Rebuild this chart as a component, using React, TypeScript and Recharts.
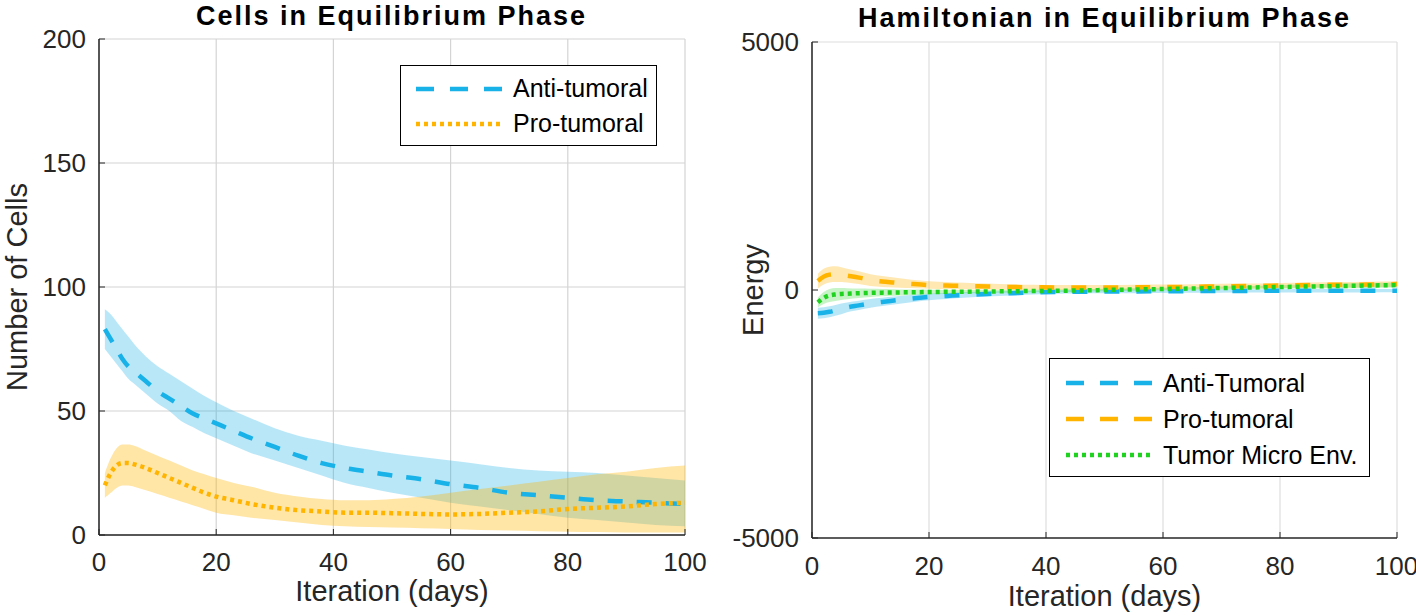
import {
  Area,
  CartesianGrid,
  ComposedChart,
  Label,
  Legend,
  Line,
  ReferenceLine,
  XAxis,
  YAxis,
} from "recharts";

const FONT = '"Liberation Sans", Arial, Helvetica, sans-serif';

// sampled iterations (days)
const days = [1, 2, 3, 4, 5, 6, 8, 10, 12, 14, 16, 18, 20, 23, 26, 30, 34, 38, 42, 46, 50, 55, 60, 65, 70, 75, 80, 85, 90, 95, 100];

// left panel: number of cells (mean and band)
const antiMean = [83, 79, 75, 71, 68, 66, 62, 58, 55, 52, 49, 47, 45, 42, 39, 35.5, 32, 29, 27, 25.5, 24, 22.5, 20.5, 19, 17, 16, 15, 14, 13.5, 13, 12.5];
const antiHigh = [91, 89, 86, 83, 80, 77, 72, 68, 65, 62, 59, 56, 53.5, 50, 47, 43, 40, 38, 36, 34.5, 33, 31.5, 30, 28.5, 27, 26, 25.5, 25, 24, 23, 22];
const antiLow = [75, 72, 69, 66, 63, 61, 57, 53, 50, 46, 43.5, 41, 39, 36, 33, 30, 27, 24, 21, 19, 17, 15, 13, 11.5, 10, 8.5, 7, 6, 5, 4, 3.5];
const proMean = [20, 25, 28, 29, 29, 28.5, 27, 25, 23, 21, 19, 17, 15.5, 14, 12.5, 11, 10, 9.5, 9, 9, 8.8, 8.5, 8.3, 8.5, 9, 9.5, 10.5, 11, 11.5, 12.5, 13];
const proHigh = [25, 31, 35, 36.5, 36.5, 36, 34, 32, 30, 28, 26, 24.5, 23, 21, 19.5, 17, 15.5, 14.5, 14, 14, 14.5, 15.5, 17, 18.5, 20, 21.5, 23, 24.5, 25.5, 27, 28];
const proLow = [15, 17, 19, 20, 20, 19.5, 18, 16.5, 15, 13.5, 12, 10.5, 9, 8, 7, 6, 5, 4, 3.5, 3.2, 3, 2.7, 2.4, 2, 1.8, 1.5, 1.3, 1.2, 1, 1, 1];

// right panel: hamiltonian energy (mean and band)
const antiEnergy = [-470, -460, -440, -410, -380, -350, -310, -270, -240, -210, -185, -160, -140, -120, -100, -80, -65, -50, -40, -35, -30, -28, -25, -22, -20, -18, -17, -16, -15, -14, -13];
const antiEnergyHigh = [-360, -350, -330, -300, -270, -250, -215, -180, -155, -130, -110, -90, -75, -60, -45, -30, -20, -10, -5, 0, 5, 8, 10, 12, 14, 16, 17, 18, 19, 20, 21];
const antiEnergyLow = [-580, -570, -550, -520, -490, -450, -405, -360, -325, -290, -260, -230, -205, -180, -155, -130, -110, -90, -75, -70, -65, -64, -60, -56, -54, -52, -51, -50, -49, -48, -47];
const proEnergy = [180, 270, 310, 320, 310, 290, 250, 200, 170, 150, 130, 115, 100, 90, 80, 70, 60, 55, 50, 50, 50, 55, 60, 65, 75, 80, 90, 100, 105, 110, 120];
const proEnergyHigh = [330, 430, 470, 480, 460, 430, 380, 320, 280, 250, 220, 195, 175, 160, 145, 130, 115, 105, 100, 100, 100, 105, 110, 115, 125, 130, 140, 150, 160, 165, 175];
const proEnergyLow = [30, 110, 150, 160, 160, 150, 120, 80, 60, 50, 40, 35, 25, 20, 15, 10, 5, 5, 0, 0, 0, 5, 10, 15, 25, 30, 40, 50, 50, 55, 65];
const tmeEnergy = [-250, -160, -110, -90, -80, -75, -65, -58, -53, -50, -47, -44, -40, -37, -34, -30, -25, -20, -15, -10, 0, 10, 20, 30, 40, 50, 60, 70, 80, 90, 100];
const tmeEnergyHigh = [-150, -40, 20, 40, 40, 35, 30, 25, 20, 15, 10, 8, 5, 2, 0, -2, 2, 6, 10, 15, 25, 35, 45, 55, 70, 80, 95, 110, 125, 140, 150];
const tmeEnergyLow = [-350, -280, -240, -220, -200, -185, -160, -141, -126, -115, -104, -96, -85, -76, -68, -58, -52, -46, -40, -35, -25, -15, -5, 5, 10, 20, 25, 30, 35, 40, 50];

const xTicks = [0, 20, 40, 60, 80, 100];
const cellTicks = [0, 50, 100, 150, 200];
const energyTicks = [-5000, 0, 5000];

const BLUE = "#18b1e8";
const ORANGE = "#ffb400";
const GREEN = "#1fd21f";
const AXIS = "#262626";

const cellsData = days.map((d, i) => ({
  day: d,
  anti: antiMean[i],
  antiBand: [antiLow[i], antiHigh[i]],
  pro: proMean[i],
  proBand: [proLow[i], proHigh[i]],
}));

const energyData = days.map((d, i) => ({
  day: d,
  anti: antiEnergy[i],
  antiBand: [antiEnergyLow[i], antiEnergyHigh[i]],
  pro: proEnergy[i],
  proBand: [proEnergyLow[i], proEnergyHigh[i]],
  tme: tmeEnergy[i],
  tmeBand: [tmeEnergyLow[i], tmeEnergyHigh[i]],
}));

type Item = { label: string; color: string; dash: string };

const LegendBox = ({ items, rowH, padTop, padLeft }: { items: Item[]; rowH: number; padTop: number; padLeft: number }) => (
  <div
    style={{
      boxSizing: "border-box",
      width: "100%",
      height: "100%",
      border: "1.5px solid #000",
      background: "#fff",
      paddingTop: padTop,
      paddingLeft: padLeft,
      fontFamily: FONT,
      fontSize: 25,
      color: "#000",
    }}
  >
    {items.map((it) => (
      <div key={it.label} style={{ display: "flex", alignItems: "center", height: rowH }}>
        <svg width={88} height={10} style={{ flexShrink: 0 }}>
          <line x1={0} y1={5} x2={87} y2={5} stroke={it.color} strokeWidth={4.5} strokeDasharray={it.dash} />
        </svg>
        <span style={{ marginLeft: 9, whiteSpace: "nowrap" }}>{it.label}</span>
      </div>
    ))}
  </div>
);

const tickStyle = { fill: AXIS, fontSize: 26, fontFamily: FONT };
const labelStyle = { fill: AXIS, fontSize: 29, fontFamily: FONT };
const titleStyle = {
  position: "absolute" as const,
  fontFamily: FONT,
  fontWeight: 700,
  fontSize: 27,
  letterSpacing: 2,
  lineHeight: "30px",
  textAlign: "center" as const,
  color: "#000",
  whiteSpace: "nowrap" as const,
};

const CellsChart = () => (
  <ComposedChart width={708} height={616} data={cellsData} margin={{ top: 39, right: 23, bottom: 0, left: 0 }}>
    <CartesianGrid stroke="#d4d4d4" strokeWidth={1.2} />
    <XAxis
      dataKey="day"
      type="number"
      domain={[0, 100]}
      ticks={xTicks}
      height={81}
      tick={tickStyle}
      tickSize={-6}
      tickMargin={24}
      tickLine={{ stroke: AXIS }}
      axisLine={{ stroke: AXIS, strokeWidth: 1.5 }}
    >
      <Label value="Iteration (days)" position="insideBottom" offset={15} style={labelStyle} />
    </XAxis>
    <YAxis
      type="number"
      domain={[0, 200]}
      ticks={cellTicks}
      width={99}
      tick={tickStyle}
      tickSize={-6}
      tickMargin={19}
      tickLine={{ stroke: AXIS }}
      axisLine={{ stroke: AXIS, strokeWidth: 1.5 }}
    >
      <Label value="Number of Cells" angle={-90} position="insideLeft" offset={17} style={{ ...labelStyle, textAnchor: "middle" }} />
    </YAxis>
    <Legend
      layout="vertical"
      align="center"
      verticalAlign="middle"
      wrapperStyle={{ left: 400, top: 65, width: 257, height: 81 }}
      content={() => (
        <LegendBox
          rowH={35}
          padTop={5}
          padLeft={15}
          items={[
            { label: "Anti-tumoral", color: BLUE, dash: "18 16" },
            { label: "Pro-tumoral", color: ORANGE, dash: "4 4" },
          ]}
        />
      )}
    />
    <Area dataKey="antiBand" type="monotone" stroke="none" fill={BLUE} fillOpacity={0.3} isAnimationActive={false} activeDot={false} />
    <Line dataKey="anti" type="monotone" stroke={BLUE} strokeWidth={4.5} strokeDasharray="15 14" dot={false} activeDot={false} isAnimationActive={false} />
    <Area dataKey="proBand" type="monotone" stroke="none" fill={ORANGE} fillOpacity={0.35} isAnimationActive={false} activeDot={false} />
    <Line dataKey="pro" type="monotone" stroke={ORANGE} strokeWidth={4.5} strokeDasharray="4 4" dot={false} activeDot={false} isAnimationActive={false} />
  </ComposedChart>
);

const EnergyChart = () => (
  <ComposedChart width={708} height={616} data={energyData} margin={{ top: 42, right: 19, bottom: 0, left: 0 }}>
    <CartesianGrid stroke="#dedede" strokeWidth={1.2} horizontal={false} />
    <ReferenceLine y={5000} stroke="#dedede" strokeWidth={1.2} />
    <XAxis
      dataKey="day"
      type="number"
      domain={[0, 100]}
      ticks={xTicks}
      height={78}
      tick={tickStyle}
      tickSize={-6}
      tickMargin={25}
      tickLine={{ stroke: AXIS }}
      axisLine={{ stroke: AXIS, strokeWidth: 1.5 }}
    >
      <Label value="Iteration (days)" position="insideBottom" offset={10} style={labelStyle} />
    </XAxis>
    <YAxis
      type="number"
      domain={[-5000, 5000]}
      ticks={energyTicks}
      width={104}
      tick={tickStyle}
      tickSize={-6}
      tickMargin={19}
      tickLine={{ stroke: AXIS }}
      axisLine={{ stroke: AXIS, strokeWidth: 1.5 }}
    >
      <Label value="Energy" angle={-90} position="insideLeft" offset={45} style={{ ...labelStyle, textAnchor: "middle" }} />
    </YAxis>
    <Legend
      layout="vertical"
      align="center"
      verticalAlign="middle"
      wrapperStyle={{ left: 341, top: 358, width: 321, height: 119 }}
      content={() => (
        <LegendBox
          rowH={36}
          padTop={6}
          padLeft={16}
          items={[
            { label: "Anti-Tumoral", color: BLUE, dash: "18 16" },
            { label: "Pro-tumoral", color: ORANGE, dash: "18 16" },
            { label: "Tumor Micro Env.", color: GREEN, dash: "4 4" },
          ]}
        />
      )}
    />
    <Area dataKey="antiBand" type="monotone" stroke="none" fill={BLUE} fillOpacity={0.3} isAnimationActive={false} activeDot={false} />
    <Line dataKey="anti" type="monotone" stroke={BLUE} strokeWidth={4.5} strokeDasharray="15 17" dot={false} activeDot={false} isAnimationActive={false} />
    <Area dataKey="proBand" type="monotone" stroke="none" fill={ORANGE} fillOpacity={0.3} isAnimationActive={false} activeDot={false} />
    <Line dataKey="pro" type="monotone" stroke={ORANGE} strokeWidth={4.5} strokeDasharray="15 17" dot={false} activeDot={false} isAnimationActive={false} />
    <Area dataKey="tmeBand" type="monotone" stroke="none" fill={GREEN} fillOpacity={0.25} isAnimationActive={false} activeDot={false} />
    <Line dataKey="tme" type="monotone" stroke={GREEN} strokeWidth={4.5} strokeDasharray="4 4" dot={false} activeDot={false} isAnimationActive={false} />
  </ComposedChart>
);

export default function App() {
  return (
    <div style={{ position: "absolute", left: 0, top: 0, width: 1416, height: 616, background: "#fff" }}>
      <div style={{ position: "absolute", left: 0, top: 0 }}>
        <CellsChart />
      </div>
      <div style={{ position: "absolute", left: 708, top: 0 }}>
        <EnergyChart />
      </div>
      <div style={{ ...titleStyle, left: 98, width: 587, top: 1 }}>Cells in Equilibrium Phase</div>
      <div style={{ ...titleStyle, left: 812, width: 585, top: 3 }}>Hamiltonian in Equilibrium Phase</div>
    </div>
  );
}
